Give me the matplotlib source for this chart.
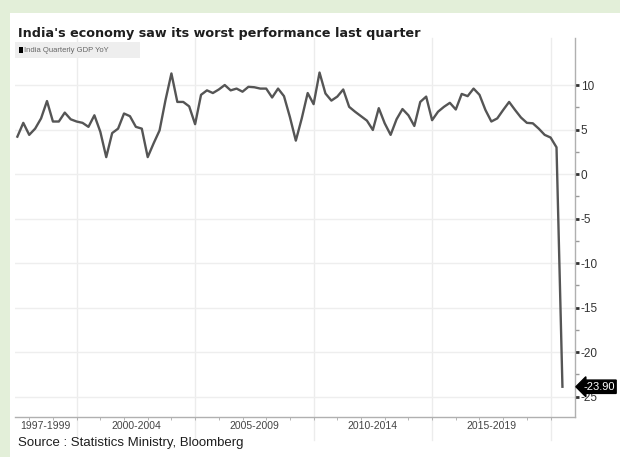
import numpy as np
import pandas as pd
import matplotlib
matplotlib.use("Agg")
import matplotlib.pyplot as plt
import matplotlib.transforms as mtransforms
from matplotlib.patches import Rectangle

# India quarterly GDP, % change year on year
quarters = pd.period_range("1997Q2", "2020Q2", freq="Q")
gdp_yoy = [4.2, 5.75, 4.4, 5.1, 6.25, 8.2, 5.9, 5.9, 6.9, 6.15,
           5.9, 5.75, 5.3, 6.6, 4.75, 1.9, 4.6, 5.1, 6.8, 6.5,
           5.3, 5.1, 1.9, 3.45, 4.9, 8.3, 11.3, 8.1, 8.1, 7.6,
           5.6, 8.9, 9.4, 9.1, 9.5, 10.0, 9.4, 9.6, 9.25, 9.8,
           9.75, 9.6, 9.6, 8.6, 9.6, 8.75, 6.4, 3.75, 6.25, 9.1,
           7.85, 11.4, 9.05, 8.25, 8.7, 9.5, 7.55, 7.0, 6.5, 6.0,
           4.95, 7.4, 5.7, 4.4, 6.15, 7.3, 6.6, 5.4, 8.1, 8.7,
           6.05, 7.0, 7.55, 8.0, 7.25, 9.0, 8.75, 9.6, 8.9, 7.2,
           5.9, 6.25, 7.2, 8.1, 7.2, 6.35, 5.75, 5.7, 5.1, 4.4,
           4.1, 3.0, -23.9]
last_value = -23.90

period_labels = ["1997-1999", "2000-2004", "2005-2009", "2010-2014", "2015-2019"]
period_edges = [1997, 2000, 2005, 2010, 2015, 2020]
y_ticks = [10, 5, 0, -5, -10, -15, -20, -25]

title = "India's economy saw its worst performance last quarter"
series_name = "India Quarterly GDP YoY"
source = "Source : Statistics Ministry, Bloomberg"

narrow = ["Liberation Sans", "DejaVu Sans"]

# quarters are plotted at their end date
x = np.array(quarters.year + quarters.quarter * 0.25, dtype=float)

W, H = 620, 457
fig = plt.figure(figsize=(W / 100, H / 100), dpi=100, facecolor="#e3efd9")

# white card sitting on the green page
fig.patches.append(Rectangle((10 / W, 0), 1, 1 - 13 / H, transform=fig.transFigure,
                             fc="white", ec="none", zorder=-5))

ax = fig.add_axes([15 / W, 1 - 417 / H, 560 / W, (417 - 37.5) / H])
ax.set_facecolor("white")
ax.set_xlim(1997.40, 2021.03)
ax.set_ylim(-27.3, 15.34)

ax.plot(x, gdp_yoy, color="#555555", lw=1.7, zorder=3, solid_joinstyle="round")

# grid
ax.set_yticks(y_ticks)
ax.grid(axis="y", color="#eeeeee", lw=1)
trans_xa = mtransforms.blended_transform_factory(ax.transData, ax.transAxes)
for e in period_edges[1:]:
    ax.plot([e, e], [-0.06, 1], color="#ececec", lw=1, transform=trans_xa,
            clip_on=False, zorder=1)

for side in ["left", "top"]:
    ax.spines[side].set_visible(False)
for side in ["right", "bottom"]:
    ax.spines[side].set_color("#b0b0b0")
    ax.spines[side].set_linewidth(1)

# right hand value axis
ax.yaxis.tick_right()
ax.set_yticklabels([str(v) for v in y_ticks], family=narrow, fontsize=8.5, color="#333")
ax.set_yticks(np.array(y_ticks[:-1]) - 2.5, minor=True)
ax.tick_params(axis="y", which="major", length=3, width=2, color="#333", pad=1)
ax.tick_params(axis="y", which="minor", length=3, width=1, color="#999")

# period labels centred in each span
x0 = ax.get_xlim()[0]
centers = [(max(a, x0) + b) / 2 for a, b in zip(period_edges[:-1], period_edges[1:])]
ax.set_xticks(centers)
ax.set_xticklabels(period_labels, family=narrow, fontsize=7.5, color="#444")
ax.set_xticks(range(1998, 2021), minor=True)
ax.tick_params(axis="x", which="major", length=0, pad=3)
ax.tick_params(axis="x", which="minor", length=2.5, color="#aaa")

# last value callout
callout = mtransforms.offset_copy(
    mtransforms.blended_transform_factory(ax.transAxes, ax.transData),
    fig=fig, x=8, y=0, units="dots")
ax.text(1.0, last_value, f"{last_value:.2f}", transform=callout, ha="left", va="center",
        color="white", fontsize=8, family=narrow, zorder=5, clip_on=False,
        bbox=dict(boxstyle="larrow,pad=0.15", fc="black", ec="black"))

# title and legend
fig.text(18 / W, 1 - 33 / H, title, fontsize=9.2, fontweight="bold", color="#1e1e1e",
         va="center", ha="left")
fig.patches.append(Rectangle((15 / W, 1 - 58 / H), 125 / W, 16 / H,
                             transform=fig.transFigure, fc="#eeeeee", ec="none", zorder=1))
fig.patches.append(Rectangle((19 / W, 1 - 53 / H), 3.5 / W, 6 / H,
                             transform=fig.transFigure, fc="black", ec="none", zorder=2))
fig.text(24 / W, 1 - 50 / H, series_name, fontsize=5.5, color="#666",
         va="center", ha="left", family=narrow)

fig.text(18 / W, 1 - 443 / H, source, fontsize=9.5, color="#1e1e1e",
         va="center", ha="left", family=narrow)

fig.savefig("out.png", dpi=100, facecolor=fig.get_facecolor())
